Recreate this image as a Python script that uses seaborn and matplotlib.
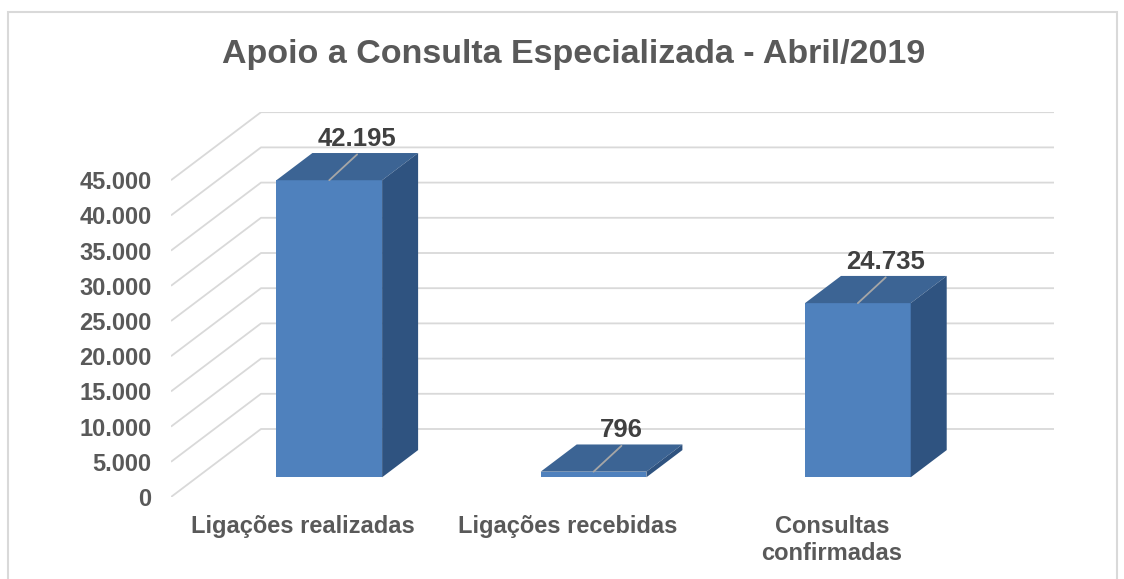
import textwrap

import matplotlib
matplotlib.use("Agg")
import matplotlib.pyplot as plt
import numpy as np
import pandas as pd
import seaborn as sns
from matplotlib.patches import Polygon, Rectangle

# ------------------------------------------------------------------
# Data
# ------------------------------------------------------------------
categories = ["Ligações realizadas", "Ligações recebidas", "Consultas confirmadas"]
values = [42195, 796, 24735]
y_ticks = list(range(0, 45001, 5000))
title = "Apoio a Consulta Especializada - Abril/2019"

# ------------------------------------------------------------------
# Style
# ------------------------------------------------------------------
sns.set_theme(style="white")
plt.rcParams["font.family"] = ["Liberation Sans", "DejaVu Sans"]
plt.rcParams["font.weight"] = "bold"

FRONT = "#4F81BD"
TOP = "#3C6494"
SIDE = "#2F5380"
GRID = "#D9D9D9"

# fake 3D depth (in data units): full floor depth and bar placement in it
DX, DY = 0.3405, 9660
F0, F1 = 0.29, 0.69

fig = plt.figure(figsize=(11.24, 5.79), dpi=100)
ax = fig.add_axes([171 / 1124, 82 / 579, 883 / 1124, 385 / 579])

xmax = -0.5 + 883 / 264.3
ymax = 385 / 35.2 * 5000

# perspective gridlines: front edge -> back wall
for v in y_ticks:
    ax.plot([-0.5, -0.5 + DX, xmax], [v, v + DY, v + DY],
            color=GRID, lw=1.3, zorder=0, solid_capstyle="butt")

df = pd.DataFrame({"categoria": categories, "valor": values})
sns.barplot(data=df, x="categoria", y="valor", color=FRONT, saturation=1,
            width=0.4, ax=ax, zorder=3, errorbar=None)

# push front faces back into the floor and add top/side faces
dx_bar = (F1 - F0) * DX
dy_bar = (F1 - F0) * DY
for i, (bar, v) in enumerate(zip(ax.patches, values)):
    bar.set_x(bar.get_x() + F0 * DX)
    bar.set_y(F0 * DY)
    bar.set_linewidth(0)
    x0 = bar.get_x()
    x1 = x0 + bar.get_width()
    yb = F0 * DY
    yt = v + F0 * DY
    ax.add_patch(Polygon([(x0, yt), (x1, yt), (x1 + dx_bar, yt + dy_bar),
                          (x0 + dx_bar, yt + dy_bar)],
                         closed=True, facecolor=TOP, edgecolor="none", zorder=3))
    ax.add_patch(Polygon([(x1, yb), (x1, yt), (x1 + dx_bar, yt + dy_bar),
                          (x1 + dx_bar, yb + dy_bar)],
                         closed=True, facecolor=SIDE, edgecolor="none", zorder=3))

    # data label with leader line
    cx = (x0 + x1) / 2
    lx, ly = i + 0.6 * DX, v + 0.67 * DY
    ax.plot([cx, lx], [yt, ly], color="#A6A6A6", lw=1.3, zorder=4)
    ax.annotate(f"{v:,}".replace(",", "."), (lx, ly), xytext=(0, 6),
                textcoords="offset points", ha="center", va="baseline",
                fontsize=18.5, fontweight="bold", color="#404040", zorder=5)

ax.set_xlim(-0.5, xmax)
ax.set_ylim(0, ymax)
ax.set_yticks(y_ticks)
ax.set_yticklabels([f"{t:,}".replace(",", ".") for t in y_ticks])
ax.set_xticks(range(len(categories)))
ax.set_xticklabels([textwrap.fill(c, 20) for c in categories])
ax.tick_params(axis="y", length=0, pad=14, labelsize=17, labelcolor="#595959")
ax.tick_params(axis="x", length=0, pad=13, labelsize=17, labelcolor="#595959")
for lab in ax.get_xticklabels() + ax.get_yticklabels():
    lab.set_fontweight("bold")
ax.set_xlabel("")
ax.set_ylabel("")
ax.grid(False)
sns.despine(ax=ax, left=True, bottom=True)
ax.patch.set_alpha(0)

fig.text(574 / 1124, 1 - 54 / 579, title, ha="center", va="center",
         fontsize=24.5, fontweight="bold", color="#595959")

# chart area border
fig.patches.append(Rectangle((8 / 1124, -0.1), (1117 - 8) / 1124, (579 - 12) / 579 + 0.1,
                             transform=fig.transFigure, fill=False,
                             edgecolor=GRID, lw=1.5))

fig.savefig("out.png", dpi=100)
